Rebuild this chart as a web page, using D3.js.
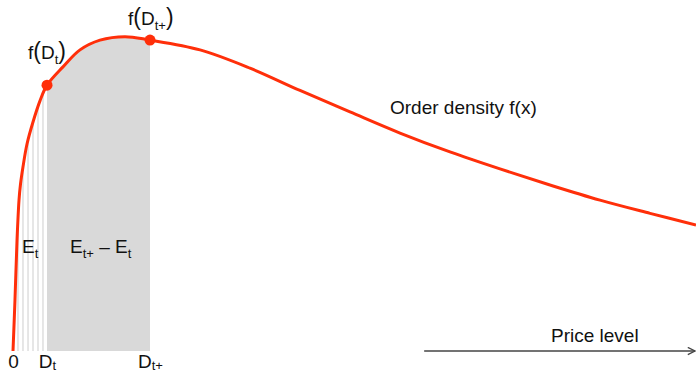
<!DOCTYPE html>
<html>
<head>
<meta charset="utf-8">
<script src="https://cdn.jsdelivr.net/npm/d3@7"></script>
<style>
  body { margin: 0; background: #fff; }
  svg { display: block; }
  text { font-family: "Liberation Sans", Arial, sans-serif; fill: #111; font-size: 19px; }
</style>
</head>
<body>
<svg id="chart"></svg>
<script>
/* global d3 */
// order density curve
const priceX = [0, 0.029, 0.059, 0.088, 0.110, 0.146, 0.205, 0.293, 0.395, 0.498, 0.732, 0.981, 1.274, 1.640, 2.006, 2.738, 3.47, 4.202, 4.934, 5.666, 6.398, 7.13, 7.862, 8.594, 9.327, 10]
const density = [0, 0.162, 0.352, 0.479, 0.53, 0.584, 0.657, 0.727, 0.794, 0.844, 0.902, 0.956, 0.987, 0.998, 0.987, 0.956, 0.898, 0.827, 0.759, 0.692, 0.632, 0.578, 0.527, 0.479, 0.437, 0.4]
const Dt = 0.498
const Dtp = 2.006
const hatchX = [0.073, 0.146, 0.22, 0.293, 0.366, 0.439]
const tickValues = [0, Dt, Dtp]
const tickLabels = [['0', ''], ['D', 't'], ['D', 't+']]
const arrowFrom = 6.02

const width = 696
const height = 373
const red = '#ff2f0a'

const x = d3.scaleLinear().domain([0, 10]).range([13, 696])
const y = d3.scaleLinear().domain([0, 1]).range([351, 36])

const svg = d3.select('#chart').attr('width', width).attr('height', height)

const pts = priceX.map((p, i) => [p, density[i]])
const curve = d3.curveCatmullRom.alpha(0.5)

const area = d3.area()
  .x(d => x(d[0]))
  .y0(y(0))
  .y1(d => y(d[1]))
  .curve(curve)
const line = d3.line()
  .x(d => x(d[0]))
  .y(d => y(d[1]))
  .curve(curve)

svg.append('clipPath').attr('id', 'under')
  .append('path').attr('d', area(pts))

const under = svg.append('g').attr('clip-path', 'url(#under)')

// E_t: thin strips
under.selectAll('line.hatch')
  .data(hatchX)
  .enter()
  .append('line')
  .attr('class', 'hatch')
  .attr('x1', d => x(d)).attr('x2', d => x(d))
  .attr('y1', y(0)).attr('y2', 0)
  .attr('stroke', '#dedede')
  .attr('stroke-width', 1.5)

// E_t+ - E_t: shaded block
under.append('rect')
  .attr('x', x(Dt))
  .attr('width', x(Dtp) - x(Dt))
  .attr('y', 0)
  .attr('height', y(0))
  .attr('fill', '#d9d9d9')

svg.append('path')
  .attr('d', line(pts))
  .attr('fill', 'none')
  .attr('stroke', red)
  .attr('stroke-width', 3)

svg.selectAll('circle')
  .data([Dt, Dtp])
  .enter()
  .append('circle')
  .attr('cx', d => x(d))
  .attr('cy', d => y(density[priceX.indexOf(d)]))
  .attr('r', 5.5)
  .attr('fill', red)

// bottom labels
const xAxis = d3.axisBottom(x).tickValues(tickValues).tickSize(0).tickPadding(4)
const ax = svg.append('g').attr('transform', `translate(0,${y(0)})`).call(xAxis)
ax.select('.domain').remove()
ax.selectAll('text')
  .attr('font-size', 19)
  .attr('font-family', null)
  .text('')
  .each(function (d, i) {
    const t = d3.select(this)
    t.append('tspan').text(tickLabels[i][0])
    if (tickLabels[i][1]) {
      t.append('tspan').attr('font-size', 13).attr('dy', 2).text(tickLabels[i][1])
    }
  })

// labels with subscripts
function label (px, py, parts) {
  const t = svg.append('text').attr('x', px).attr('y', py)
  parts.forEach(p => {
    const s = t.append('tspan').text(p.t)
    if (p.sub) s.attr('font-size', 13).attr('dy', 5)
    if (p.up) s.attr('dy', -5)
    if (p.big) s.attr('font-size', 23)
  })
  return t
}

label(x(Dt) - 19, y(density[priceX.indexOf(Dt)]) - 26,
  [{ t: 'f' }, { t: '(', big: true }, { t: 'D' }, { t: 't', sub: true }, { t: ')', big: true, up: true }])
label(x(Dtp) - 22, y(density[priceX.indexOf(Dtp)]) - 15,
  [{ t: 'f' }, { t: '(', big: true }, { t: 'D' }, { t: 't+', sub: true }, { t: ')', big: true, up: true }])
label(22, 253, [{ t: 'E' }, { t: 't', sub: true }])
label(70, 253, [{ t: 'E' }, { t: 't+', sub: true }, { t: ' \u2013 E', up: true }, { t: 't', sub: true }])

svg.append('text').attr('x', 390).attr('y', 114).text('Order density f(x)')

// price level arrow
svg.append('defs').append('marker')
  .attr('id', 'arrow')
  .attr('viewBox', '0 0 10 10')
  .attr('refX', 9).attr('refY', 5)
  .attr('markerWidth', 6).attr('markerHeight', 6)
  .attr('orient', 'auto')
  .append('path')
  .attr('d', 'M1,1L9,5L1,9')
  .attr('fill', 'none')
  .attr('stroke', '#444')
  .attr('stroke-width', 1.5)

svg.append('line')
  .attr('x1', x(arrowFrom)).attr('x2', x(10) - 1)
  .attr('y1', y(0)).attr('y2', y(0))
  .attr('stroke', '#444')
  .attr('stroke-width', 1.5)
  .attr('marker-end', 'url(#arrow)')

svg.append('text').attr('x', 551).attr('y', 342).text('Price level')
</script>
</body>
</html>
